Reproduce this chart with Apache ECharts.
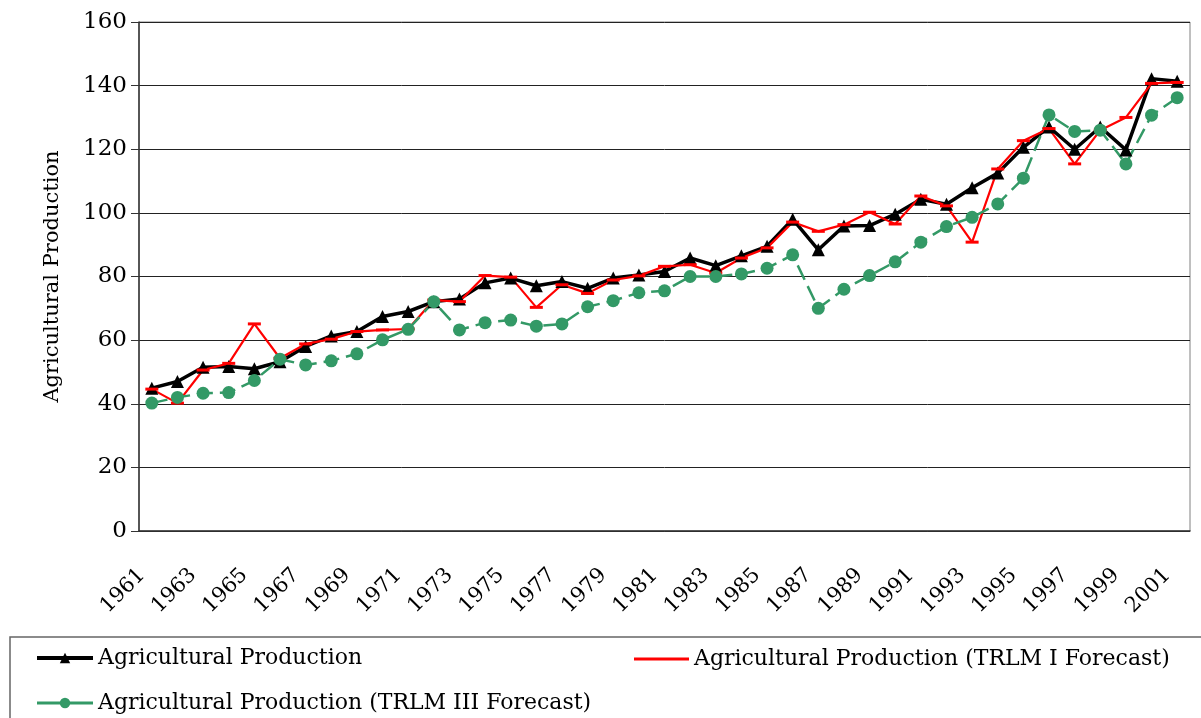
<!DOCTYPE html>
<html>
<head>
<meta charset="utf-8">
<script src="https://cdn.jsdelivr.net/npm/echarts@6/dist/echarts.min.js"></script>
<style>
  html, body { margin: 0; padding: 0; background: #fff; }
  #myChart { width: 1201px; height: 718px; }
</style>
</head>
<body>
<div id="myChart"></div>
<script>
// years on the category axis
var years = [];
for (var y = 1961; y <= 2001; y++) years.push(String(y));

// values
var production = [44.9, 47.0, 51.5, 51.7, 51.0, 53.2, 58.0, 61.3, 62.7, 67.4,
    69.0, 72.1, 72.9, 78.0, 79.5, 77.1, 78.4, 76.3, 79.5, 80.5,
    81.6, 85.8, 83.4, 86.5, 89.5, 98.0, 88.4, 95.9, 96.0, 99.6,
    104.3, 102.7, 107.9, 112.5, 120.6, 127.0, 120.0, 127.0, 119.8, 142.2,
    141.4];
var trlm1 = [44.6, 40.2, 50.6, 52.7, 65.1, 54.3, 58.8, 60.3, 62.7, 63.2,
    63.5, 72.6, 72.1, 80.3, 79.8, 70.3, 77.4, 74.7, 78.9, 80.2,
    83.2, 83.7, 81.1, 85.8, 89.0, 97.1, 94.2, 96.3, 100.2, 96.5,
    105.3, 102.2, 90.8, 113.8, 122.7, 126.5, 115.4, 126.0, 130.0, 140.7,
    141.0];
var trlm3 = [40.2, 42.0, 43.3, 43.5, 47.3, 54.0, 52.2, 53.5, 55.7, 60.1,
    63.4, 72.1, 63.2, 65.5, 66.3, 64.4, 65.1, 70.5, 72.4, 74.9,
    75.5, 80.0, 80.0, 80.8, 82.6, 86.8, 70.0, 76.0, 80.3, 84.6,
    90.8, 95.7, 98.6, 102.8, 110.9, 130.8, 125.6, 126.0, 115.4, 130.7,
    136.2];

var names = ['Agricultural Production',
    'Agricultural Production (TRLM I Forecast)',
    'Agricultural Production (TRLM III Forecast)'];

var font = 'DejaVu Serif';
var myChart = echarts.init(document.getElementById('myChart'));
var option = {
    animation: false,
    textStyle: { fontFamily: font },
    grid: {
        left: 139,
        right: 11,
        top: 22,
        bottom: 187,
        outerBoundsMode: 'none',
        containLabel: false,
        show: true,
        borderColor: '#808080',
        borderWidth: 1
    },
    legend: [
        {
            orient: 'vertical',
            left: 35,
            top: 647,
            padding: 0,
            itemGap: 23,
            itemWidth: 56,
            itemHeight: 13,
            textStyle: { fontFamily: font, fontSize: 22, color: '#000' },
            data: [
                { name: names[0], lineStyle: { width: 4 } },
                { name: names[2], lineStyle: { type: 'solid', width: 3 } }
            ]
        },
        {
            orient: 'vertical',
            left: 634,
            top: 648,
            padding: 0,
            itemWidth: 55,
            itemHeight: 3,
            textStyle: { fontFamily: font, fontSize: 22, color: '#000' },
            data: [{ name: names[1], icon: 'rect' }]
        }
    ],
    graphic: [{
        type: 'rect',
        shape: { x: 10, y: 637, width: 1200, height: 100 },
        style: { fill: 'none', stroke: '#666', lineWidth: 1.5 },
        silent: true
    }],
    xAxis: {
        type: 'category',
        data: years,
        boundaryGap: true,
        axisLine: { lineStyle: { color: '#333', width: 1.5 } },
        axisTick: { interval: 0, length: 8, lineStyle: { color: '#333' } },
        axisLabel: {
            interval: 1,
            rotate: 45,
            margin: 31,
            padding: [0, 14, 0, 0],
            fontFamily: font,
            fontSize: 21,
            color: '#000'
        }
    },
    yAxis: {
        type: 'value',
        min: 0,
        max: 160,
        interval: 20,
        name: 'Agricultural Production',
        nameLocation: 'middle',
        nameGap: 76,
        nameTextStyle: { fontFamily: font, fontSize: 21, color: '#000' },
        axisLine: { show: true, lineStyle: { color: '#333', width: 1.5 } },
        axisTick: { show: true, length: 8, lineStyle: { color: '#333' } },
        axisLabel: { margin: 12, fontFamily: font, fontSize: 23, color: '#000' },
        splitLine: { lineStyle: { color: '#222', width: 1 } }
    },
    series: [
        {
            name: names[0],
            type: 'line',
            data: production,
            symbol: 'triangle',
            symbolSize: 13,
            showAllSymbol: true,
            itemStyle: { color: '#000' },
            lineStyle: { color: '#000', width: 3.5 }
        },
        {
            name: names[1],
            type: 'line',
            data: trlm1,
            symbol: 'rect',
            symbolSize: [13, 3],
            showAllSymbol: true,
            itemStyle: { color: '#ff0000' },
            lineStyle: { color: '#ff0000', width: 2.2 }
        },
        {
            name: names[2],
            type: 'line',
            data: trlm3,
            symbol: 'circle',
            symbolSize: 13,
            showAllSymbol: true,
            itemStyle: { color: '#339966' },
            lineStyle: { color: '#339966', width: 2.5, type: [16, 7] }
        }
    ]
};
myChart.setOption(option);
</script>
</body>
</html>
